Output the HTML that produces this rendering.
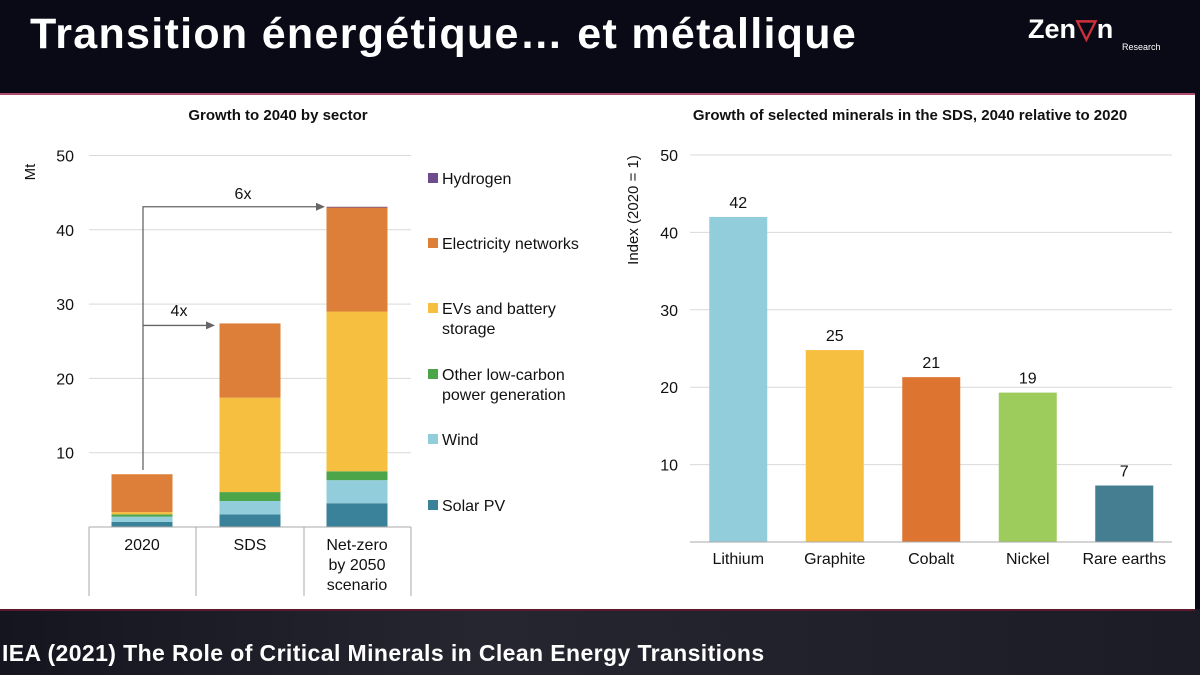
<!DOCTYPE html>
<html><head><meta charset="utf-8"><style>
body{margin:0;width:1200px;height:675px;overflow:hidden;background:#0a0a17;font-family:"Liberation Sans",sans-serif;position:relative}
#title{position:absolute;left:30px;top:10px;color:#fff;font-size:43px;font-weight:bold;letter-spacing:1.3px}
#logo{position:absolute;left:1028px;top:14px;color:#fff;font-size:27px;font-weight:bold}
#logo small{position:absolute;left:94px;top:28px;font-size:9px;font-weight:normal}
#panel{position:absolute;left:0;top:93px;width:1195px;height:514px;background:#fff;border-top:2px solid #b04a6a;border-bottom:2px solid #5a1a2a}
#src{position:absolute;left:2px;top:640px;color:#fff;font-size:23px;font-weight:bold;letter-spacing:0.4px}
#bottombg{position:absolute;left:0;top:609px;width:1200px;height:66px;background:linear-gradient(90deg,#15151f,#262630 40%,#1c1c26)}
</style></head><body>
<div id="bottombg"></div>
<div id="title">Transition énergétique… et métallique</div>
<div id="logo">Zen<span style="color:#d0303a">▽</span>n<small>Research</small></div>
<div id="panel"></div>
<div id="src">IEA (2021) The Role of Critical Minerals in Clean Energy Transitions</div>
<svg id="c" width="1200" height="675" style="position:absolute;left:0;top:0"></svg>
<script>
const sectorCats=["2020","SDS","Net-zero by 2050 scenario"];
const sectorNames=["Solar PV","Wind","Other low-carbon power generation","EVs and battery storage","Electricity networks","Hydrogen"];
const solarPV=[0.7,1.7,3.2];
const wind=[0.7,1.8,3.1];
const otherLowCarbon=[0.3,1.2,1.2];
const evBattery=[0.3,12.7,21.5];
const elecNetworks=[5.1,10.0,14.0];
const hydrogen=[0,0,0.1];
const leftTicks=[10,20,30,40,50];
const minerals=["Lithium","Graphite","Cobalt","Nickel","Rare earths"];
const mineralValues=[42,24.8,21.3,19.3,7.3];
const mineralLabels=["42","25","21","19","7"];
const rightTicks=[10,20,30,40,50];

const svg=document.getElementById('c');const NS='http://www.w3.org/2000/svg';
function mk(t,a,txt,name){const e=document.createElementNS(NS,t);for(const k in a)e.setAttribute(k,a[k]);if(txt!=null)e.textContent=txt;


svg.appendChild(e);return e;}
const F='Liberation Sans, sans-serif';
const ly=v=>527-v*7.43;
mk('text',{x:278,y:120,'text-anchor':'middle','font-size':15,'font-weight':'bold','font-family':F,fill:'#111'},'Growth to 2040 by sector','left-chart-title');
mk('text',{x:0,y:0,transform:'translate(35,172) rotate(-90)','text-anchor':'middle','font-size':15,'font-family':F,fill:'#111'},'Mt','left-y-axis-title');
leftTicks.forEach(t=>{mk('line',{x1:89,x2:411,y1:ly(t),y2:ly(t),stroke:'#d9d9d9'},null,'left-gridline');
mk('text',{x:74,y:ly(t)+6,'text-anchor':'end','font-size':16,'font-family':F,fill:'#111'},t,'left-y-tick');});
const series=[solarPV,wind,otherLowCarbon,evBattery,elecNetworks,hydrogen];
const colors=['#3a8299','#92cddc','#4da54a','#f6bf3f','#dd7f38','#6c4c8c'];
const cx=[142,250,357];
sectorCats.forEach((c,i)=>{let acc=0;series.forEach((s,j)=>{const v=s[i];if(v>0){mk('rect',{x:cx[i]-30.5,y:ly(acc+v),width:61,height:v*7.43,fill:colors[j]},null,'bar-'+c+'-'+j);}acc+=v;});});
mk('line',{x1:89,x2:411,y1:527,y2:527,stroke:'#aaa'},null,'left-x-axis');
[89,196,304,411].forEach(x=>mk('line',{x1:x,x2:x,y1:527,y2:596,stroke:'#aaa'},null,'category-divider'));
mk('text',{x:142,y:550,'text-anchor':'middle','font-size':16,'font-family':F,fill:'#111'},'2020','x-label-2020');
mk('text',{x:250,y:550,'text-anchor':'middle','font-size':16,'font-family':F,fill:'#111'},'SDS','x-label-sds');
['Net-zero','by 2050','scenario'].forEach((t,k)=>mk('text',{x:357,y:550+k*20,'text-anchor':'middle','font-size':16,'font-family':F,fill:'#111'},t,'x-label-netzero'));
const tot=i=>series.reduce((a,s)=>a+s[i],0);
mk('path',{d:`M143,470 V${ly(tot(2))} H318 M143,${ly(tot(1))+2} H208`,stroke:'#666','stroke-width':1.3,fill:'none'},null,'growth-arrows');
mk('path',{d:`M316,${ly(tot(2))-4} l9,4 l-9,4z M206,${ly(tot(1))-2} l9,4 l-9,4z`,fill:'#666'},null,'arrow-heads');
mk('text',{x:243,y:199,'text-anchor':'middle','font-size':16,'font-family':F,fill:'#111'},'6x','label-6x');
mk('text',{x:179,y:316,'text-anchor':'middle','font-size':16,'font-family':F,fill:'#111'},'4x','label-4x');
const leg=[[5,'Hydrogen',178],[4,'Electricity networks',243],[3,'EVs and battery|storage',308],[2,'Other low-carbon|power generation',374],[1,'Wind',439],[0,'Solar PV',505]];
leg.forEach(([ci,t,y])=>{mk('rect',{x:428,y:y-5,width:10,height:10,fill:colors[ci]},null,'legend-swatch');
t.split('|').forEach((l,k)=>mk('text',{x:442,y:y+6+k*20,'font-size':16,'font-family':F,fill:'#111'},l,'legend-entry'));});
const ry=v=>542-v*7.74;
mk('text',{x:910,y:120,'text-anchor':'middle','font-size':15,'font-weight':'bold','font-family':F,fill:'#111'},'Growth of selected minerals in the SDS, 2040 relative to 2020','right-chart-title');
mk('text',{x:0,y:0,transform:'translate(638,210) rotate(-90)','text-anchor':'middle','font-size':15,'font-family':F,fill:'#111'},'Index (2020 = 1)','right-y-axis-title');
rightTicks.forEach(t=>{mk('line',{x1:690,x2:1172,y1:ry(t),y2:ry(t),stroke:'#d9d9d9'},null,'right-gridline');
mk('text',{x:678,y:ry(t)+6,'text-anchor':'end','font-size':16,'font-family':F,fill:'#111'},t,'right-y-tick');});
const mcol=['#92cddc','#f6bf3f','#dd7530','#9dcb5c','#457e91'];
const bw=96.5;
minerals.forEach((m,i)=>{const x=690+bw*i+bw/2;
mk('rect',{x:x-29,y:ry(mineralValues[i]),width:58,height:mineralValues[i]*7.74,fill:mcol[i]},null,'bar-'+m.toLowerCase().replace(' ','-'));
mk('text',{x:x,y:ry(mineralValues[i])-9,'text-anchor':'middle','font-size':16,'font-family':F,fill:'#111'},mineralLabels[i],'value-label');
mk('text',{x:x,y:564,'text-anchor':'middle','font-size':16,'font-family':F,fill:'#111'},m,'x-label');});
mk('line',{x1:690,x2:1172,y1:542,y2:542,stroke:'#aaa'},null,'right-x-axis');
</script>
</body></html>
